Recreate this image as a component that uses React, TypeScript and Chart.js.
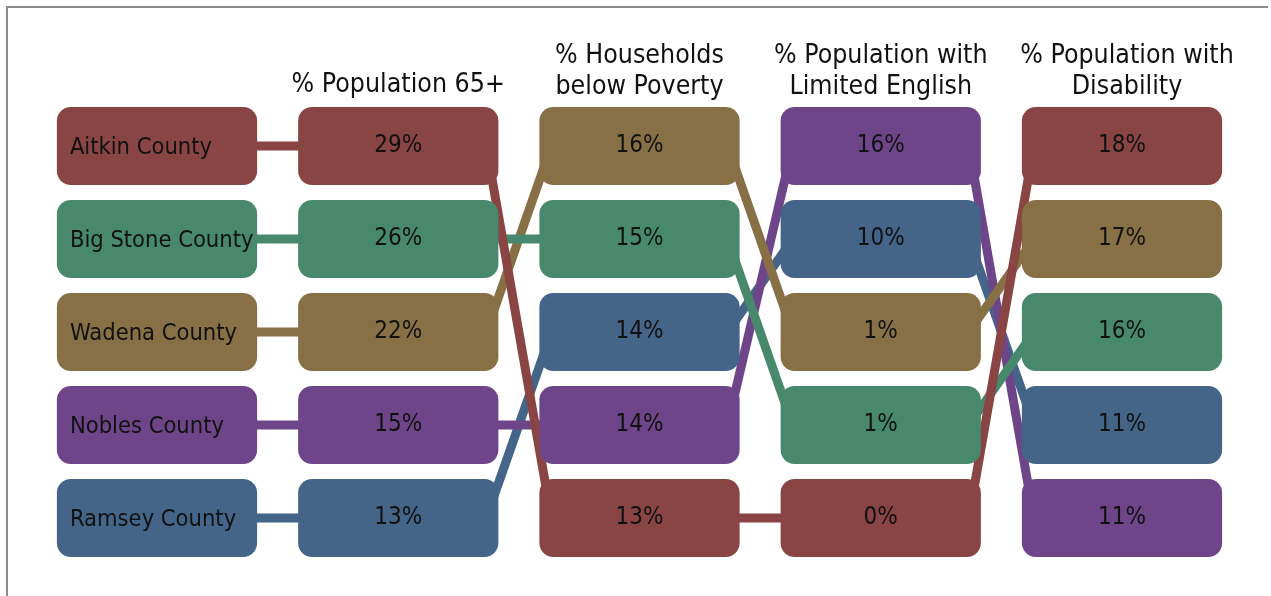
import React, { useEffect, useRef } from 'react';
import { Chart, registerables } from 'chart.js';

Chart.register(...registerables);

// ---- data ----
const counties = ['Aitkin County', 'Big Stone County', 'Wadena County', 'Nobles County', 'Ramsey County'];
const countyColors = ['#894543', '#48896E', '#877045', '#6E4589', '#446488'];
const headers: string[][] = [
  [],
  ['% Population 65+'],
  ['% Households', 'below Poverty'],
  ['% Population with', 'Limited English'],
  ['% Population with', 'Disability'],
];
const pop65 = [29, 26, 22, 15, 13];
const poverty = [13, 15, 16, 14, 14];
const limitedEnglish = [0, 1, 1, 16, 10];
const disability = [18, 16, 17, 11, 11];
// row (rank) of each county in each column, top = 1
const rankName = [1, 2, 3, 4, 5];
const rank65 = [1, 2, 3, 4, 5];
const rankPoverty = [5, 2, 1, 4, 3];
const rankEnglish = [5, 4, 3, 1, 2];
const rankDisability = [1, 3, 2, 5, 4];
const rowTicks = [1, 2, 3, 4, 5];
const colTicks = [0, 1, 2, 3, 4];

const columns = [
  { values: null as number[] | null, ranks: rankName },
  { values: pop65, ranks: rank65 },
  { values: poverty, ranks: rankPoverty },
  { values: limitedEnglish, ranks: rankEnglish },
  { values: disability, ranks: rankDisability },
];

const HALF = 0.415; // half box width in column units
const INSET = 0.05; // connector start inside the box
const FONT = '"DejaVu Sans Condensed", "DejaVu Sans", sans-serif';

const textPlugin = {
  id: 'boxText',
  afterDatasetsDraw(chart: any) {
    const ctx = chart.ctx;
    ctx.save();
    ctx.fillStyle = '#111111';
    chart.data.datasets.forEach((ds: any, di: number) => {
      if (ds.type !== 'bar') return;
      const col = ds.columnIndex;
      const meta = chart.getDatasetMeta(di);
      meta.data.forEach((el: any, i: number) => {
        const left = Math.min(el.x, el.base);
        const right = Math.max(el.x, el.base);
        const y = el.y;
        ctx.textBaseline = 'alphabetic';
        if (col === 0) {
          ctx.font = `23.5px ${FONT}`;
          ctx.textAlign = 'left';
          ctx.fillText(counties[i], left + 13, y + 8);
        } else {
          ctx.font = `24px ${FONT}`;
          ctx.textAlign = 'center';
          ctx.fillText(`${columns[col].values![i]}%`, (left + right) / 2, y + 6);
        }
      });
    });
    // column headers
    const xs = chart.scales.x;
    ctx.font = `26.5px ${FONT}`;
    ctx.textAlign = 'center';
    ctx.textBaseline = 'alphabetic';
    headers.forEach((lines, c) => {
      const cx = xs.getPixelForValue(c);
      lines.forEach((line, li) => {
        const yb = (lines.length === 1 ? 92 : 94) - (lines.length - 1 - li) * 31;
        ctx.fillText(line, cx + (c === 4 ? 5 : 0), yb);
      });
    });
    ctx.restore();
  },
};

export default function App() {
  const ref = useRef<HTMLCanvasElement>(null);
  useEffect(() => {
    const barSets = columns.map((col, c) => ({
      type: 'bar' as const,
      columnIndex: c,
      indexAxis: 'y' as const,
      data: counties.map((_, i) => ({ x: [c - HALF, c + HALF], y: col.ranks[i] })),
      backgroundColor: countyColors,
      borderRadius: 14,
      borderSkipped: false,
      borderWidth: 0,
      grouped: false,
      barPercentage: 1,
      categoryPercentage: 0.84,
      order: 0,
    }));
    const lineSets = counties.map((name, i) => {
      const pts: { x: number; y: number }[] = [];
      columns.forEach((col, c) => {
        if (c > 0) pts.push({ x: c - HALF + INSET, y: col.ranks[i] });
        if (c < columns.length - 1) pts.push({ x: c + HALF - INSET, y: col.ranks[i] });
      });
      return {
        type: 'line' as const,
        label: name,
        data: pts,
        borderColor: countyColors[i],
        borderWidth: 9,
        pointRadius: 0,
        tension: 0,
        fill: false,
        borderJoinStyle: 'round' as const,
        order: 1,
      };
    });
    const chart = new Chart(ref.current!, {
      type: 'bar',
      data: { datasets: [...barSets, ...lineSets] as any },
      options: {
        animation: false,
        responsive: true,
        maintainAspectRatio: false,
        layout: { autoPadding: false, padding: { left: 12.25, right: 4.25, top: 99.5, bottom: 31.5 } },
        plugins: { legend: { display: false }, tooltip: { enabled: false }, title: { display: false } },
        scales: {
          x: {
            type: 'linear',
            min: -0.6,
            max: 4.6,
            offset: false,
            display: false,
            afterBuildTicks: (scale: any) => {
              scale.ticks = colTicks.map((v) => ({ value: v }));
            },
          },
          y: {
            type: 'linear',
            min: 0.5,
            max: 5.5,
            reverse: true,
            offset: false,
            display: false,
            afterBuildTicks: (scale: any) => {
              scale.ticks = rowTicks.map((v) => ({ value: v }));
            },
          },
        },
      } as any,
      plugins: [textPlugin],
    });
    return () => chart.destroy();
  }, []);

  return (
    <div style={{ position: 'absolute', left: 0, top: 0, width: 1271, height: 596, overflow: 'hidden', background: '#fff' }}>
      <div
        style={{
          position: 'absolute',
          left: 6,
          top: 6,
          width: 1262,
          height: 800,
          borderLeft: '2px solid #8c8c8c',
          borderTop: '2px solid #8c8c8c',
          boxSizing: 'border-box',
        }}
      />
      <div style={{ position: 'absolute', left: 0, top: 0, width: 1271, height: 596 }}>
        <canvas ref={ref} />
      </div>
    </div>
  );
}
